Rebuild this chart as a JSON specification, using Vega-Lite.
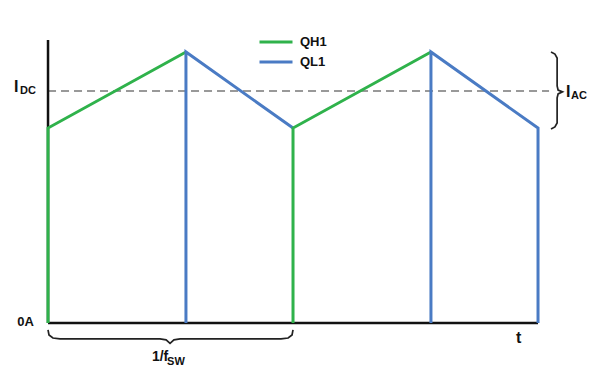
{
  "$schema": "https://vega.github.io/schema/vega-lite/v6.json",
  "width": 600,
  "height": 367,
  "autosize": "none",
  "padding": 0,
  "background": "white",
  "config": {"view": {"stroke": null}},
  "datasets": {
    "wave": [
      {"series": "QH1", "seg": "g1", "i": 0, "t": 0, "v": 0},
      {"series": "QH1", "seg": "g1", "i": 1, "t": 0, "v": 0.84},
      {"series": "QH1", "seg": "g1", "i": 2, "t": 0.563, "v": 1.168},
      {"series": "QL1", "seg": "b1", "i": 0, "t": 0.563, "v": 0},
      {"series": "QL1", "seg": "b1", "i": 1, "t": 0.563, "v": 1.168},
      {"series": "QL1", "seg": "b1", "i": 2, "t": 1, "v": 0.84},
      {"series": "QH1", "seg": "g2", "i": 0, "t": 1, "v": 0},
      {"series": "QH1", "seg": "g2", "i": 1, "t": 1, "v": 0.84},
      {"series": "QH1", "seg": "g2", "i": 2, "t": 1.563, "v": 1.168},
      {"series": "QL1", "seg": "b2", "i": 0, "t": 1.563, "v": 0},
      {"series": "QL1", "seg": "b2", "i": 1, "t": 1.563, "v": 1.168},
      {"series": "QL1", "seg": "b2", "i": 2, "t": 2, "v": 0.84},
      {"series": "QL1", "seg": "b2", "i": 3, "t": 2, "v": 0}
    ],
    "axes": [
      {"seg": "y", "i": 0, "t": 0, "v": 1.22},
      {"seg": "y", "i": 1, "t": 0, "v": 0},
      {"seg": "x", "i": 0, "t": 0, "v": 0},
      {"seg": "x", "i": 1, "t": 2.0, "v": 0}
    ],
    "braces": [
      {"seg": "bottom", "i": 0, "t": 0, "v": -0.030},
      {"seg": "bottom", "i": 1, "t": 0.004, "v": -0.052},
      {"seg": "bottom", "i": 2, "t": 0.020, "v": -0.065},
      {"seg": "bottom", "i": 3, "t": 0.049, "v": -0.069},
      {"seg": "bottom", "i": 4, "t": 0.457, "v": -0.069},
      {"seg": "bottom", "i": 5, "t": 0.482, "v": -0.073},
      {"seg": "bottom", "i": 6, "t": 0.498, "v": -0.088},
      {"seg": "bottom", "i": 7, "t": 0.514, "v": -0.073},
      {"seg": "bottom", "i": 8, "t": 0.539, "v": -0.069},
      {"seg": "bottom", "i": 9, "t": 0.951, "v": -0.069},
      {"seg": "bottom", "i": 10, "t": 0.980, "v": -0.065},
      {"seg": "bottom", "i": 11, "t": 0.996, "v": -0.052},
      {"seg": "bottom", "i": 12, "t": 1.0, "v": -0.030},
      {"seg": "right", "i": 0, "t": 2.053, "v": 1.168},
      {"seg": "right", "i": 1, "t": 2.069, "v": 1.159},
      {"seg": "right", "i": 2, "t": 2.078, "v": 1.142},
      {"seg": "right", "i": 3, "t": 2.078, "v": 1.022},
      {"seg": "right", "i": 4, "t": 2.082, "v": 1.004},
      {"seg": "right", "i": 5, "t": 2.100, "v": 0.996},
      {"seg": "right", "i": 6, "t": 2.082, "v": 0.987},
      {"seg": "right", "i": 7, "t": 2.078, "v": 0.970},
      {"seg": "right", "i": 8, "t": 2.078, "v": 0.862},
      {"seg": "right", "i": 9, "t": 2.069, "v": 0.845},
      {"seg": "right", "i": 10, "t": 2.053, "v": 0.836}
    ],
    "dc": [
      {"t": 0, "v": 1.0},
      {"t": 2.045, "v": 1.0}
    ],
    "labels": [
      {"label": "I", "role": "big", "t": -0.139, "v": 1.019},
      {"label": "I", "role": "big", "t": 2.114, "v": 0.996},
      {"label": "t", "role": "big", "t": 1.910, "v": -0.065},
      {"label": "1/f", "role": "mid", "t": 0.424, "v": -0.147},
      {"label": "0A", "role": "small", "t": -0.126, "v": 0.004},
      {"label": "DC", "role": "sub", "t": -0.114, "v": 0.998},
      {"label": "SW", "role": "sub", "t": 0.486, "v": -0.168},
      {"label": "AC", "role": "sub", "t": 2.135, "v": 0.978}
    ]
  },
  "layer": [
    {
      "data": {"name": "dc"},
      "mark": {"type": "line", "color": "#999999", "strokeWidth": 2, "strokeDash": [8, 5]},
      "encoding": {
        "x": {"field": "t", "type": "quantitative", "scale": {"domain": [-0.196, 2.253], "nice": false, "zero": false}, "axis": null},
        "y": {"field": "v", "type": "quantitative", "scale": {"domain": [-0.19, 1.392], "nice": false, "zero": false}, "axis": null}
      }
    },
    {
      "data": {"name": "axes"},
      "mark": {"type": "line", "color": "#111111", "strokeWidth": 2.5},
      "encoding": {
        "x": {"field": "t", "type": "quantitative"},
        "y": {"field": "v", "type": "quantitative"},
        "detail": {"field": "seg"},
        "order": {"field": "i"}
      }
    },
    {
      "data": {"name": "wave"},
      "mark": {"type": "line", "strokeWidth": 3},
      "encoding": {
        "x": {"field": "t", "type": "quantitative"},
        "y": {"field": "v", "type": "quantitative"},
        "detail": {"field": "seg"},
        "order": {"field": "i"},
        "color": {
          "field": "series",
          "type": "nominal",
          "scale": {"domain": ["QH1", "QL1"], "range": ["#2fb24b", "#4a7bc4"]},
          "legend": {
            "title": null,
            "orient": "none",
            "legendX": 258,
            "legendY": 34,
            "symbolType": "stroke",
            "symbolSize": 1089,
            "symbolStrokeWidth": 3,
            "clipHeight": 16,
            "labelFont": "Liberation Sans",
            "labelFontWeight": "bold",
            "labelFontSize": 13,
            "labelColor": "#111111",
            "labelOffset": 6,
            "rowPadding": 4
          }
        }
      }
    },
    {
      "data": {"name": "braces"},
      "mark": {"type": "line", "color": "#222222", "strokeWidth": 1.7},
      "encoding": {
        "x": {"field": "t", "type": "quantitative"},
        "y": {"field": "v", "type": "quantitative"},
        "detail": {"field": "seg"},
        "order": {"field": "i"}
      }
    },
    {
      "data": {"name": "labels"},
      "transform": [{"filter": "datum.role === 'big'"}],
      "mark": {"type": "text", "font": "Liberation Sans", "fontWeight": "bold", "fontSize": 16, "align": "left", "baseline": "middle", "color": "#111111"},
      "encoding": {
        "x": {"field": "t", "type": "quantitative"},
        "y": {"field": "v", "type": "quantitative"},
        "text": {"field": "label"}
      }
    },
    {
      "data": {"name": "labels"},
      "transform": [{"filter": "datum.role === 'mid'"}],
      "mark": {"type": "text", "font": "Liberation Sans", "fontWeight": "bold", "fontSize": 14, "align": "left", "baseline": "middle", "color": "#111111"},
      "encoding": {
        "x": {"field": "t", "type": "quantitative"},
        "y": {"field": "v", "type": "quantitative"},
        "text": {"field": "label"}
      }
    },
    {
      "data": {"name": "labels"},
      "transform": [{"filter": "datum.role === 'small'"}],
      "mark": {"type": "text", "font": "Liberation Sans", "fontWeight": "bold", "fontSize": 13, "align": "left", "baseline": "middle", "color": "#111111"},
      "encoding": {
        "x": {"field": "t", "type": "quantitative"},
        "y": {"field": "v", "type": "quantitative"},
        "text": {"field": "label"}
      }
    },
    {
      "data": {"name": "labels"},
      "transform": [{"filter": "datum.role === 'sub'"}],
      "mark": {"type": "text", "font": "Liberation Sans", "fontWeight": "bold", "fontSize": 11, "align": "left", "baseline": "middle", "color": "#111111"},
      "encoding": {
        "x": {"field": "t", "type": "quantitative"},
        "y": {"field": "v", "type": "quantitative"},
        "text": {"field": "label"}
      }
    }
  ]
}
